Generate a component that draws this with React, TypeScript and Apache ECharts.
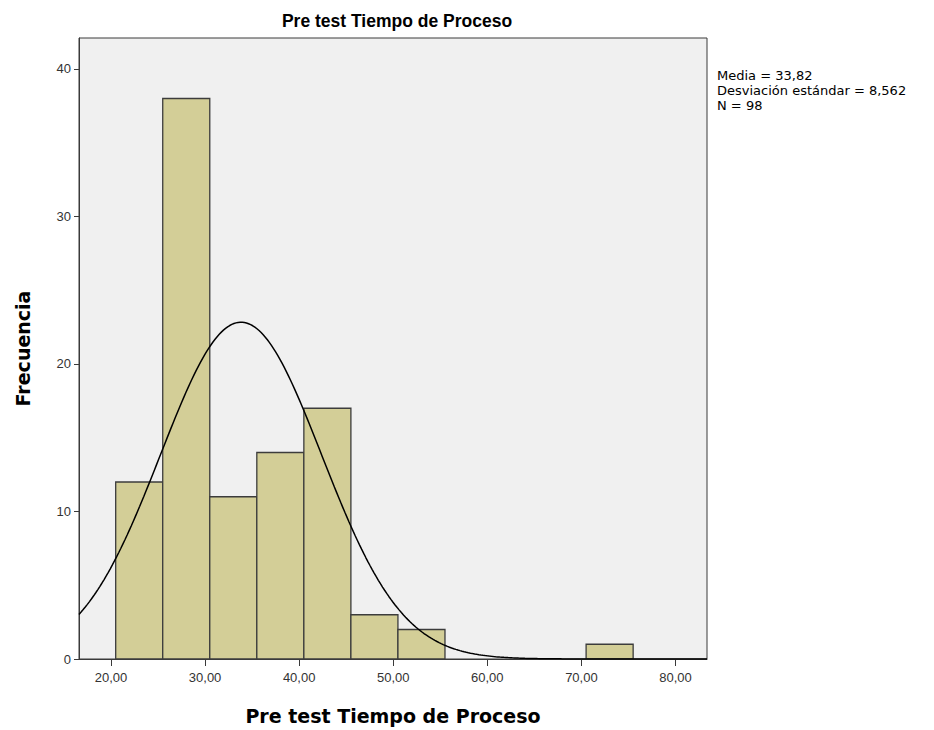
import React, { useEffect, useRef } from "react";
import * as echarts from "echarts";

const binStarts = [20.5, 25.5, 30.5, 35.5, 40.5, 45.5, 50.5, 70.5];
const binEnds = [25.5, 30.5, 35.5, 40.5, 45.5, 50.5, 55.5, 75.5];
const counts = [12, 38, 11, 14, 17, 3, 2, 1];
const xTicks = [20, 30, 40, 50, 60, 70, 80];
const yTicks = [0, 10, 20, 30, 40];
const mean = 33.82;
const sd = 8.562;
const n = 98;
const binWidth = 5;
const statsLines = ["Media = 33,82", "Desviación estándar = 8,562", "N = 98"];

const X_MIN = 16.6;
const X_MAX = 83.35;
const Y_MAX = 42.1;

function normalCurve(): number[][] {
  const pts: number[][] = [];
  const steps = 300;
  for (let i = 0; i <= steps; i++) {
    const x = X_MIN + ((X_MAX - X_MIN) * i) / steps;
    const z = (x - mean) / sd;
    const y = ((n * binWidth) / (sd * Math.sqrt(2 * Math.PI))) * Math.exp(-0.5 * z * z);
    pts.push([x, y]);
  }
  return pts;
}

export default function App() {
  const ref = useRef<HTMLDivElement>(null);
  useEffect(() => {
    if (!ref.current) return;
    const chart = echarts.init(ref.current, null, { renderer: "svg" });
    const fmt = (v: number) => v.toFixed(2).replace(".", ",");
    chart.setOption({
      animation: false,
      backgroundColor: "#ffffff",
      textStyle: { fontFamily: "Liberation Sans, Arial, sans-serif" },
      title: {
        text: "Pre test Tiempo de Proceso",
        left: 392,
        textAlign: "center",
        top: 7,
        textStyle: {
          fontSize: 17.5,
          fontWeight: "bold",
          color: "#000",
          fontFamily: "Liberation Sans, Arial, sans-serif",
        },
      },
      grid: {
        left: 79,
        right: 227,
        top: 38,
        bottom: 70,
        show: true,
        backgroundColor: "#f0f0f0",
        borderColor: "#3a3a3a",
        borderWidth: 1,
      },
      xAxis: {
        type: "value",
        min: X_MIN,
        max: X_MAX,
        name: "Pre test Tiempo de Proceso",
        nameLocation: "middle",
        nameGap: 47,
        nameTextStyle: { fontSize: 19, fontWeight: "bold", color: "#000", fontFamily: "DejaVu Sans, Verdana, sans-serif" },
        splitLine: { show: false },
        axisLine: { show: true, onZero: false, lineStyle: { color: "#3a3a3a", width: 1 } },
        axisTick: { show: true, length: 7, customValues: xTicks, lineStyle: { color: "#3a3a3a" } },
        axisLabel: {
          customValues: xTicks,
          formatter: (v: number) => fmt(v),
          fontSize: 13,
          color: "#333",
          margin: 12,
        },
      },
      yAxis: {
        type: "value",
        min: 0,
        max: Y_MAX,
        name: "Frecuencia",
        nameLocation: "middle",
        nameGap: 47,
        nameRotate: 90,
        nameTextStyle: { fontSize: 19, fontWeight: "bold", color: "#000", fontFamily: "DejaVu Sans, Verdana, sans-serif" },
        splitLine: { show: false },
        axisLine: { show: true, lineStyle: { color: "#3a3a3a", width: 1 } },
        axisTick: { show: true, length: 5, customValues: yTicks, lineStyle: { color: "#3a3a3a" } },
        axisLabel: { customValues: yTicks, fontSize: 13, color: "#333", margin: 8 },
      },
      graphic: [
        {
          type: "text",
          left: 717,
          top: 68,
          style: {
            text: statsLines.join("\n"),
            fontSize: 13,
            lineHeight: 15,
            fill: "#000",
            fontFamily: "DejaVu Sans, Verdana, sans-serif",
          },
        },
      ],
      series: [
        {
          type: "custom",
          data: binStarts.map((s, i) => [s, binEnds[i], counts[i]]),
          encode: { x: [0, 1], y: 2 },
          renderItem: (params: any, api: any) => {
            const p0 = api.coord([api.value(0), api.value(2)]);
            const p1 = api.coord([api.value(1), 0]);
            return {
              type: "rect",
              shape: { x: p0[0], y: p0[1], width: p1[0] - p0[0], height: p1[1] - p0[1] },
              style: { fill: "#d3ce97", stroke: "#3c3c3c", lineWidth: 1.3 },
            };
          },
          z: 2,
        },
        {
          type: "line",
          data: normalCurve(),
          showSymbol: false,
          symbol: "none",
          smooth: false,
          clip: true,
          lineStyle: { color: "#000", width: 1.5 },
          z: 3,
        },
      ],
    });
    return () => chart.dispose();
  }, []);
  return <div ref={ref} style={{ width: 934, height: 730, position: "absolute", left: 0, top: 0 }} />;
}
